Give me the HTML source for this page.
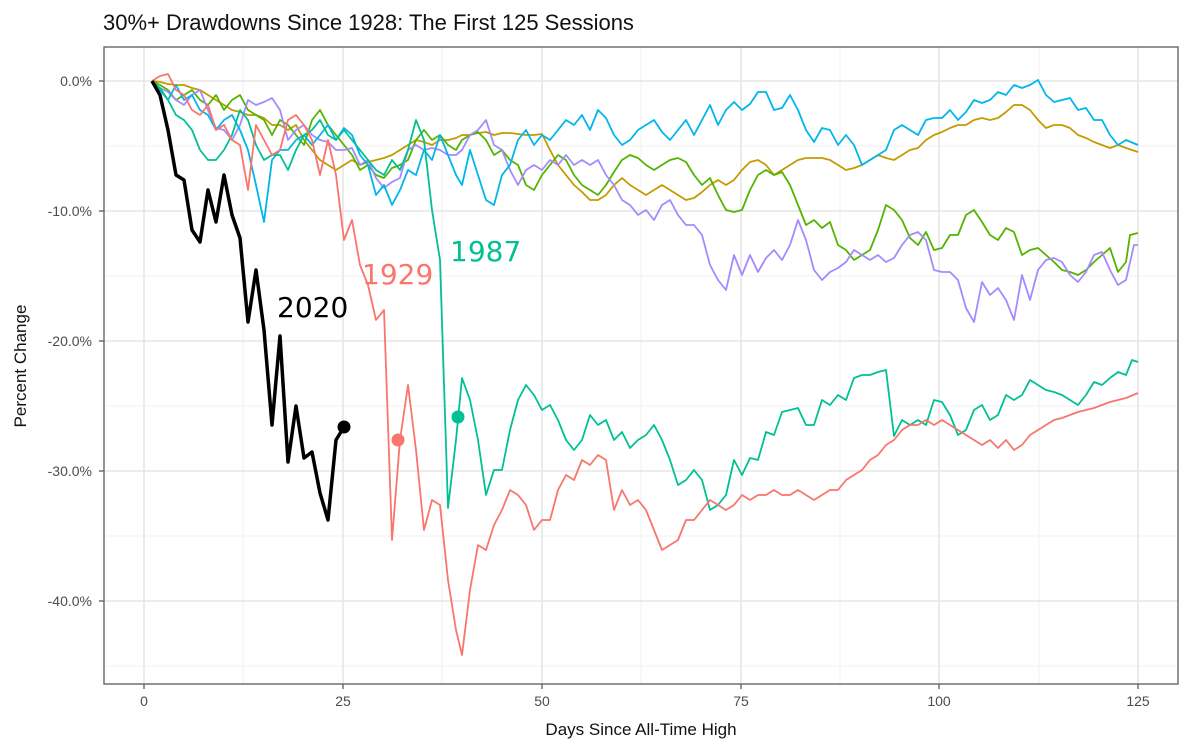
<!DOCTYPE html>
<html><head><meta charset="utf-8"><style>
body{margin:0;background:#fff;}
svg text{font-family:"Liberation Sans",sans-serif;}
</style></head><body>
<svg width="1200" height="750" xmlns="http://www.w3.org/2000/svg">
<rect width="1200" height="750" fill="#fff"/>
<text x="103" y="30" font-size="22" fill="#111">30%+ Drawdowns Since 1928: The First 125 Sessions</text>
<g stroke="#f0f0f0" stroke-width="1">
<line x1="104" x2="1178" y1="146" y2="146"/><line x1="104" x2="1178" y1="276" y2="276"/><line x1="104" x2="1178" y1="406" y2="406"/><line x1="104" x2="1178" y1="536" y2="536"/><line x1="104" x2="1178" y1="666" y2="666"/>
<line y1="47" y2="684" x1="243" x2="243"/><line y1="47" y2="684" x1="442" x2="442"/><line y1="47" y2="684" x1="641" x2="641"/><line y1="47" y2="684" x1="840" x2="840"/><line y1="47" y2="684" x1="1039" x2="1039"/>
</g>
<g stroke="#e6e6e6" stroke-width="1.6">
<line x1="104" x2="1178" y1="81" y2="81"/><line x1="104" x2="1178" y1="211" y2="211"/><line x1="104" x2="1178" y1="341" y2="341"/><line x1="104" x2="1178" y1="471" y2="471"/><line x1="104" x2="1178" y1="601" y2="601"/>
<line y1="47" y2="684" x1="144" x2="144"/><line y1="47" y2="684" x1="343" x2="343"/><line y1="47" y2="684" x1="542" x2="542"/><line y1="47" y2="684" x1="741" x2="741"/><line y1="47" y2="684" x1="939" x2="939"/><line y1="47" y2="684" x1="1138" x2="1138"/>
</g>
<g fill="none" stroke-width="1.8" stroke-linejoin="round">
<polyline stroke="#C49A00" points="152,81 160,82 168,84 176,85 184,85 192,88 200,90 208,95 216,100 224,105 232,110 240,112 248,115 256,115 264,118 272,125 280,125 288,130 296,125 304,140 312,150 320,160 328,165 336,170 344,165 352,160 360,165 368,162 376,160 384,158 392,155 400,150 408,145 416,140 424,142 432,145 440,140 448,140 456,138 462,135 470,135 478,133 486,132 494,135 502,133 510,133 518,134 526,135 534,135 542,134 550,150 558,165 566,175 574,185 582,192 590,200 598,200 606,195 614,185 622,178 630,185 638,190 646,195 654,190 662,185 670,190 678,195 686,200 694,198 702,192 710,185 718,180 726,185 734,180 742,170 750,162 758,160 766,165 774,175 782,170 790,165 798,160 806,158 814,158 822,158 830,160 838,165 846,170 854,168 862,165 870,160 878,155 886,158 894,160 902,155 910,150 918,148 926,140 934,135 942,132 950,128 958,125 966,125 974,120 982,118 990,120 998,118 1006,112 1014,105 1022,105 1030,110 1038,120 1046,128 1054,125 1062,125 1070,128 1078,135 1086,138 1094,142 1102,145 1110,148 1118,145 1126,148 1138,152"/>
<polyline stroke="#53B400" points="152,81 160,85 168,90 176,100 184,95 192,90 200,100 208,105 216,95 224,110 232,100 240,95 248,110 256,115 264,120 272,135 280,120 288,125 296,135 304,145 312,120 320,110 328,125 336,135 344,145 352,155 360,170 368,165 376,175 384,178 392,168 400,165 408,160 416,140 424,130 432,140 440,135 448,145 456,150 462,140 470,135 478,132 486,140 494,155 502,150 510,160 518,165 526,185 534,190 542,175 550,165 558,155 566,160 574,175 582,185 590,190 598,195 606,185 614,172 622,160 630,155 638,158 646,165 654,170 662,165 670,160 678,158 686,162 694,175 702,185 710,178 718,195 726,210 734,212 742,210 750,190 758,175 766,170 774,175 782,172 790,185 798,205 806,225 814,220 822,228 830,222 838,245 846,250 854,260 862,255 870,250 878,230 886,205 894,210 902,220 910,238 918,245 926,232 934,250 942,248 950,235 958,235 966,215 974,210 982,222 990,235 998,240 1006,228 1014,232 1022,255 1030,250 1038,248 1046,255 1054,262 1062,270 1070,272 1078,275 1086,270 1094,262 1102,255 1110,248 1118,272 1126,262 1130,235 1138,233"/>
<polyline stroke="#A58AFF" points="152,81 160,88 168,92 176,100 184,105 192,95 200,90 208,110 216,128 224,130 232,140 240,125 248,100 256,105 264,102 272,98 280,110 288,140 296,130 304,125 312,135 320,140 328,142 336,150 344,150 352,148 360,165 368,160 376,178 384,188 392,182 400,178 408,150 416,145 424,150 432,148 440,150 448,155 456,155 462,150 470,135 478,130 486,120 494,145 502,150 510,170 518,185 526,170 534,165 542,170 550,160 558,165 566,155 574,165 582,160 590,165 598,160 606,175 614,185 622,200 630,205 638,215 646,210 654,220 662,205 670,200 678,215 686,225 694,225 702,235 710,265 718,280 726,290 734,255 742,275 750,255 758,272 766,258 774,250 782,260 790,245 798,220 806,240 814,270 822,280 830,272 838,268 846,262 854,250 862,255 870,260 878,255 886,262 894,258 902,245 910,235 918,232 926,240 934,270 942,272 950,272 958,280 966,308 974,322 982,282 990,295 998,288 1006,300 1014,320 1022,275 1030,300 1038,270 1046,260 1054,258 1062,262 1070,275 1078,282 1086,272 1094,255 1102,252 1110,270 1118,285 1126,280 1134,245 1138,245"/>
<polyline stroke="#00B6EB" points="152,81 160,90 168,100 176,85 184,100 192,95 200,110 208,115 216,130 224,120 232,115 240,130 248,150 256,185 264,222 272,160 280,150 288,150 296,140 304,135 312,145 320,135 328,125 336,140 344,128 352,135 360,155 368,165 376,195 384,185 392,205 400,190 408,170 416,175 424,150 432,160 440,135 448,155 456,175 462,185 470,150 478,175 486,200 494,205 502,175 510,165 518,140 526,130 534,145 542,135 550,140 558,130 566,120 574,125 582,115 590,130 598,110 606,118 614,135 622,145 630,140 638,130 646,125 654,120 662,132 670,140 678,130 686,120 694,135 702,120 710,105 718,125 726,110 734,102 742,110 750,104 758,92 766,92 774,110 782,108 790,95 798,110 806,130 814,142 822,128 830,130 838,145 846,135 854,145 862,165 870,160 878,155 886,150 894,130 902,125 910,130 918,135 926,120 934,118 942,118 950,110 958,120 966,112 974,100 982,103 990,100 998,92 1006,95 1014,85 1022,88 1030,85 1038,80 1046,95 1054,102 1062,100 1070,98 1078,110 1086,108 1094,120 1102,120 1110,135 1118,145 1126,140 1138,145"/>
<polyline stroke="#00C094" points="152,81 160,88 168,100 176,115 184,120 192,130 200,150 208,160 216,160 224,150 232,135 240,110 248,120 256,145 264,160 272,155 280,155 288,170 296,150 304,135 312,130 320,120 328,135 336,140 344,130 352,140 360,150 368,160 376,170 384,175 392,160 400,170 408,150 416,120 424,140 432,210 440,260 448,508 456,440 462,378 470,400 478,440 486,495 494,470 502,470 510,430 518,400 526,385 534,395 542,410 550,405 558,420 566,440 574,450 582,440 590,415 598,425 606,420 614,440 622,432 630,448 638,440 646,435 654,425 662,440 670,460 678,485 686,480 694,470 702,480 710,510 718,505 726,495 734,460 742,475 750,458 758,460 766,432 774,435 782,412 790,410 798,408 806,425 814,425 822,400 830,405 838,395 846,400 854,378 862,375 870,375 878,372 886,370 894,436 902,420 910,425 918,420 926,425 934,400 942,402 950,415 958,435 966,430 974,410 982,405 990,420 998,415 1006,395 1014,400 1022,395 1030,380 1038,385 1046,390 1054,392 1062,395 1070,400 1078,405 1086,395 1094,382 1102,385 1110,378 1118,372 1126,375 1132,360 1138,362"/>
<polyline stroke="#F8766D" points="152,81 160,76 168,74 176,90 184,95 192,110 200,115 208,105 216,130 224,125 232,140 240,145 248,190 256,125 264,140 272,155 280,150 288,120 296,115 304,125 312,140 320,175 328,140 336,175 344,240 352,220 360,265 368,285 376,320 384,310 392,540 400,440 408,385 416,450 424,530 432,500 440,505 448,580 456,630 462,655 470,590 478,545 486,550 494,525 502,510 510,490 518,495 526,505 534,530 542,520 550,520 558,490 566,475 574,480 582,460 590,465 598,455 606,460 614,510 622,490 630,505 638,500 646,510 654,530 662,550 670,545 678,540 686,520 694,520 702,510 710,500 718,505 726,510 734,505 742,495 750,500 758,495 766,495 774,490 782,495 790,495 798,490 806,495 814,500 822,495 830,490 838,490 846,480 854,475 862,470 870,460 878,455 886,445 894,440 902,430 910,425 918,425 926,420 934,425 942,420 950,425 958,430 966,435 974,440 982,445 990,440 998,448 1006,440 1014,450 1022,445 1030,435 1038,430 1046,425 1054,420 1062,418 1070,415 1078,412 1086,410 1094,408 1102,405 1110,402 1118,400 1126,398 1138,393"/>
<polyline stroke="#000" stroke-width="3.5" points="152,81 160,95 168,130 176,175 184,180 192,230 200,242 208,190 216,222 224,175 232,215 240,238 248,322 256,270 264,330 272,425 280,336 288,462 296,406 304,458 312,452 320,493 328,520 336,440 344,427"/>
</g>
<circle cx="344" cy="427" r="6.5" fill="#000"/>
<circle cx="398" cy="440" r="6.5" fill="#F8766D"/>
<circle cx="458" cy="417" r="6.5" fill="#00C094"/>
<g font-size="28" style="font-family:'DejaVu Sans',sans-serif">
<text x="277" y="317" fill="#000" style="font-family:'DejaVu Sans',sans-serif">2020</text>
<text x="362" y="284" fill="#F8766D" style="font-family:'DejaVu Sans',sans-serif">1929</text>
<text x="450" y="261" fill="#00C094" style="font-family:'DejaVu Sans',sans-serif">1987</text>
</g>
<rect x="104" y="47" width="1074" height="637" fill="none" stroke="#666" stroke-width="1.4"/>
<g stroke="#666" stroke-width="1.4">
<line x1="99" x2="104" y1="81" y2="81"/><line x1="99" x2="104" y1="211" y2="211"/><line x1="99" x2="104" y1="341" y2="341"/><line x1="99" x2="104" y1="471" y2="471"/><line x1="99" x2="104" y1="601" y2="601"/>
<line y1="684" y2="689" x1="144" x2="144"/><line y1="684" y2="689" x1="343" x2="343"/><line y1="684" y2="689" x1="542" x2="542"/><line y1="684" y2="689" x1="741" x2="741"/><line y1="684" y2="689" x1="939" x2="939"/><line y1="684" y2="689" x1="1138" x2="1138"/>
</g>
<g font-size="14" fill="#4d4d4d" text-anchor="end">
<text x="92" y="86">0.0%</text><text x="92" y="216">-10.0%</text><text x="92" y="346">-20.0%</text><text x="92" y="476">-30.0%</text><text x="92" y="606">-40.0%</text>
</g>
<g font-size="14" fill="#4d4d4d" text-anchor="middle">
<text x="144" y="706">0</text><text x="343" y="706">25</text><text x="542" y="706">50</text><text x="741" y="706">75</text><text x="939" y="706">100</text><text x="1138" y="706">125</text>
</g>
<text x="641" y="735" font-size="17" fill="#111" text-anchor="middle">Days Since All-Time High</text>
<text transform="translate(26,366) rotate(-90)" font-size="17" fill="#111" text-anchor="middle">Percent Change</text>
</svg>
</body></html>
